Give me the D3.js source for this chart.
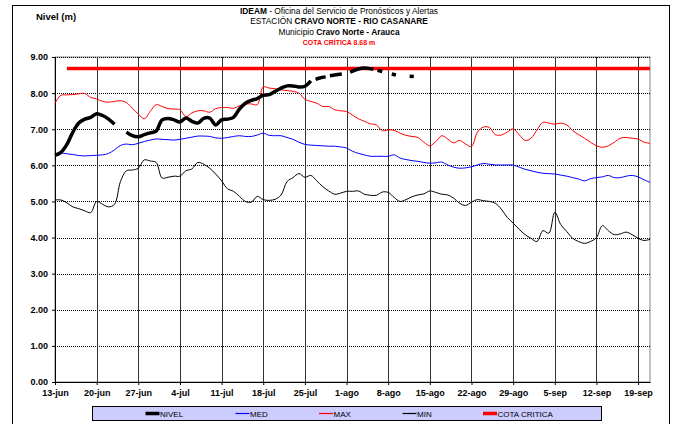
<!DOCTYPE html>
<html>
<head>
<meta charset="utf-8">
<script src="https://cdn.jsdelivr.net/npm/d3@7"></script>
<style>
  html, body { margin: 0; padding: 0; background: #fff; }
  svg { display: block; }
  text { font-family: "Liberation Sans Narrow", "Arial Narrow", "Liberation Sans", Arial, sans-serif; }
</style>
</head>
<body>
<svg id="chart" width="676" height="424"></svg>
<script>
// Daily series, day 0 = 13-jun, last day = 21-sep
const maxLevel = [7.72,7.94,7.95,7.96,7.98,7.99,7.88,7.84,7.77,7.75,7.77,7.79,7.74,7.58,7.42,7.29,7.49,7.68,7.63,7.57,
  7.56,7.54,7.35,7.45,7.51,7.51,7.47,7.57,7.60,7.60,7.58,7.65,7.70,7.70,7.68,8.17,8.14,8.12,8.09,8.07,
  8.05,8.00,7.83,7.77,7.72,7.63,7.63,7.54,7.51,7.49,7.39,7.29,7.22,7.15,7.12,6.96,6.98,6.97,6.89,6.83,
  6.80,6.77,6.64,6.54,6.66,6.82,6.73,6.62,6.69,6.59,6.52,6.92,7.06,7.05,6.85,6.84,6.92,7.01,6.85,6.69,
  6.75,6.98,7.19,7.17,7.14,7.17,7.12,6.96,6.85,6.75,6.64,6.54,6.50,6.54,6.64,6.75,6.77,6.75,6.73,6.64,6.61];

const medLevel = [6.29,6.34,6.32,6.30,6.27,6.26,6.27,6.28,6.29,6.33,6.43,6.55,6.59,6.57,6.61,6.66,6.70,6.73,6.72,6.71,
  6.70,6.72,6.75,6.78,6.81,6.81,6.80,6.76,6.75,6.77,6.80,6.82,6.80,6.80,6.84,6.89,6.83,6.82,6.82,6.77,
  6.72,6.64,6.58,6.56,6.55,6.54,6.53,6.53,6.51,6.48,6.39,6.33,6.29,6.25,6.25,6.25,6.25,6.29,6.20,6.16,
  6.13,6.11,6.08,6.06,6.07,6.09,6.01,5.95,5.92,5.93,5.96,6.01,6.05,6.03,6.01,6.01,6.01,6.01,5.95,5.89,
  5.85,5.81,5.78,5.77,5.76,5.73,5.70,5.66,5.62,5.57,5.63,5.66,5.68,5.72,5.66,5.66,5.70,5.72,5.68,5.60,5.53];

const minLevel = [5.04,5.04,4.96,4.85,4.80,4.74,4.69,5.00,4.92,4.85,4.92,5.55,5.85,5.87,5.92,6.15,6.12,6.08,5.65,5.67,
  5.70,5.70,5.85,5.90,6.08,6.03,5.92,5.76,5.57,5.35,5.28,5.14,5.00,4.98,5.14,5.05,5.03,5.06,5.18,5.55,
  5.66,5.77,5.67,5.72,5.57,5.41,5.29,5.20,5.23,5.28,5.28,5.29,5.20,5.17,5.17,5.26,5.25,5.11,5.00,5.05,
  5.13,5.18,5.21,5.29,5.25,5.20,5.18,5.09,4.95,4.89,4.98,5.05,5.02,5.00,4.95,4.79,4.56,4.40,4.23,4.08,
  3.98,3.89,4.19,4.12,4.70,4.36,4.17,3.98,3.89,3.84,3.89,4.00,4.33,4.19,4.08,4.10,4.15,4.08,3.98,3.92,3.95];

// Observed level: day offsets and readings; null breaks the line
const nivelDay = [0,1,2,3,4,5,6,7,8,9,10,null,
  12,13,14,15,16,17,18,19,20,21,22,23,24,25,26,27,28,29,30,31,32,33,34,35,36,37,38,39,40,41,42,43,null,
  43.8,44.5,45.5,null,
  46.2,47,48.2,null,
  49.6,50.5,51.5,52.5,53.5,null,
  54.2,55,null,
  56.6,57.3,null,
  59.6,60.3];
const nivelLevel = [6.28,6.36,6.58,6.92,7.17,7.28,7.33,7.43,7.38,7.28,7.14,null,
  6.92,6.82,6.79,6.85,6.90,6.95,7.26,7.30,7.26,7.20,7.31,7.22,7.17,7.30,7.31,7.12,7.26,7.28,7.33,7.56,7.72,7.80,7.85,7.94,7.96,8.05,8.14,8.20,8.20,8.17,8.19,8.34,null,
  8.38,8.42,8.45,null,
  8.48,8.50,8.53,null,
  8.58,8.64,8.69,8.69,8.66,null,
  8.63,8.60,null,
  8.53,8.50,null,
  8.47,8.46];

const cotaCritica = 8.68;
const cotaStartDay = 2;
const lastDay = 100;

const tickDays = [0,7,14,21,28,35,42,49,56,63,70,77,84,91,98];
const tickLabels = ["13-jun","20-jun","27-jun","4-jul","11-jul","18-jul","25-jul","1-ago","8-ago","15-ago","22-ago","29-ago","5-sep","12-sep","19-sep"];
const yTicks = [0,1,2,3,4,5,6,7,8,9];

const titleLines = [
  [{t:"IDEAM", b:true},{t:" - Oficina  del Servicio de Pronósticos  y Alertas", b:false}],
  [{t:"ESTACIÓN  ", b:false},{t:"CRAVO NORTE  - RIO CASANARE", b:true}],
  [{t:"Municipio  ", b:false},{t:"Cravo Norte - Arauca", b:true}]
];

const legendItems = [
  {name:"NIVEL", color:"#000000", width:3.5},
  {name:"MED", color:"#0000ff", width:1.2},
  {name:"MAX", color:"#ff0000", width:1.2},
  {name:"MIN", color:"#000000", width:1.2},
  {name:"COTA CRITICA", color:"#ff0000", width:3.5}
];

const svg = d3.select("#chart");
const plot = {left:55, right:650, top:57, bottom:382};

const x = d3.scaleLinear().domain([0, lastDay]).range([plot.left, plot.right]);
const y = d3.scaleLinear().domain([0, 9]).range([plot.bottom, plot.top]);

// outer frame
svg.append("rect").attr("x", 12.5).attr("y", 5.5).attr("width", 657).attr("height", 440)
  .attr("fill", "#fff").attr("stroke", "#000").attr("stroke-width", 1);

// titles, slightly condensed
const tg = svg.append("g").attr("text-anchor", "middle").attr("fill", "#000")
  .attr("transform", "translate(339,0) scale(0.93,1)");
const titleY = [14, 24.5, 35];
titleLines.forEach((parts, i) => {
  const t = tg.append("text").attr("x", 0).attr("y", titleY[i]).attr("font-size", 9);
  parts.forEach(p => t.append("tspan").text(p.t).attr("font-weight", p.b ? "bold" : "normal"));
});
tg.append("text").attr("x", 0).attr("y", 45.5).attr("font-size", 7.5).attr("font-weight", "bold")
  .attr("fill", "#ff0000").text("COTA CRÍTICA " + cotaCritica.toFixed(2) + " m");

svg.append("text").attr("x", 56).attr("y", 20).attr("text-anchor", "middle")
  .attr("font-size", 9.5).attr("font-weight", "bold").text("Nivel (m)");

// plot area border (gray)
svg.append("rect").attr("x", plot.left).attr("y", plot.top)
  .attr("width", plot.right - plot.left).attr("height", plot.bottom - plot.top)
  .attr("fill", "none").attr("stroke", "#888").attr("stroke-width", 1);

// horizontal dotted gridlines
svg.append("g").selectAll("line").data(yTicks.filter(v => v > 0)).join("line")
  .attr("x1", plot.left).attr("x2", plot.right)
  .attr("y1", d => Math.round(y(d)) + 0.5).attr("y2", d => Math.round(y(d)) + 0.5)
  .attr("stroke", "#000").attr("stroke-width", 1).attr("stroke-dasharray", "1,1");

// vertical solid gridlines
svg.append("g").selectAll("line").data(tickDays.filter(d => d > 0)).join("line")
  .attr("x1", d => Math.round(x(d)) + 0.5).attr("x2", d => Math.round(x(d)) + 0.5)
  .attr("y1", plot.top).attr("y2", plot.bottom)
  .attr("stroke", "#333").attr("stroke-width", 1);

// axes
const axisFont = '"Liberation Sans Narrow","Arial Narrow","Liberation Sans",Arial,sans-serif';
const xAxis = d3.axisBottom(x).tickValues(tickDays).tickFormat((d, i) => tickLabels[i])
  .tickSizeInner(3).tickSizeOuter(0).tickPadding(5);
const gx = svg.append("g").attr("transform", `translate(0,${plot.bottom})`).call(xAxis);
gx.select(".domain").attr("stroke", "#000");
gx.selectAll("text").attr("font-size", 9).attr("font-weight", "bold").attr("fill", "#000")
  .style("font-family", axisFont);

const yAxis = d3.axisLeft(y).tickValues(yTicks).tickFormat(d3.format(".2f"))
  .tickSizeInner(3).tickSizeOuter(0).tickPadding(4);
const gy = svg.append("g").attr("transform", `translate(${plot.left},0)`).call(yAxis);
gy.select(".domain").attr("stroke", "#000");
gy.selectAll("text").attr("font-size", 9).attr("font-weight", "bold").attr("fill", "#000")
  .style("font-family", axisFont);

// series
const curve = d3.curveCatmullRom.alpha(0.5);
const dailyLine = d3.line().x((d, i) => x(i)).y(d => y(d)).curve(curve);

svg.append("path").datum(medLevel).attr("d", dailyLine)
  .attr("fill", "none").attr("stroke", "#0000ff").attr("stroke-width", 1);
svg.append("path").datum(maxLevel).attr("d", dailyLine)
  .attr("fill", "none").attr("stroke", "#ff0000").attr("stroke-width", 1);
svg.append("path").datum(minLevel).attr("d", dailyLine)
  .attr("fill", "none").attr("stroke", "#000").attr("stroke-width", 1);

// critical level
svg.append("path").datum([cotaStartDay, lastDay])
  .attr("d", d3.line().x(d => x(d)).y(() => y(cotaCritica)))
  .attr("fill", "none").attr("stroke", "#ff0000").attr("stroke-width", 3.5);

// observed level
const nivelPts = nivelDay.map((d, i) => [d, nivelLevel[i]]);
const nivelLine = d3.line().defined(p => p[0] !== null && p[1] !== null)
  .x(p => x(p[0])).y(p => y(p[1])).curve(curve);
svg.append("path").datum(nivelPts).attr("d", nivelLine)
  .attr("fill", "none").attr("stroke", "#000").attr("stroke-width", 3.5)
  .attr("stroke-linejoin", "round");

// legend
const lg = svg.append("g");
lg.append("rect").attr("x", 92.5).attr("y", 406.5).attr("width", 509).attr("height", 14)
  .attr("fill", "#ccccff").attr("stroke", "#000").attr("stroke-width", 1);
const legendX = [145.5, 235.5, 319, 402.5, 483];
legendItems.forEach((it, i) => {
  lg.append("line").attr("x1", legendX[i]).attr("x2", legendX[i] + 14)
    .attr("y1", 413.5).attr("y2", 413.5)
    .style("stroke", it.color).style("stroke-width", it.width);
  lg.append("text").attr("x", legendX[i] + 14.5).attr("y", 416.5)
    .attr("font-size", 8).attr("fill", "#000").text(it.name);
});
</script>
</body>
</html>
